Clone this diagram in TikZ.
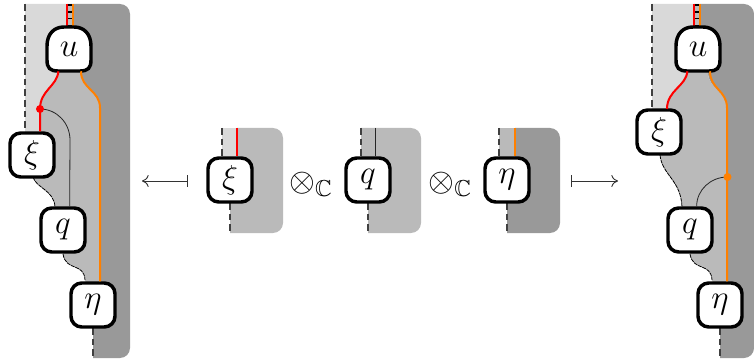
\documentclass[tikz,border=0pt]{standalone}
\usepackage{amssymb,amsmath}
\usepackage{xcolor}
\usetikzlibrary{arrows.meta}
\definecolor{lightreg}{HTML}{D9D9D9}
\definecolor{midreg}{HTML}{BABABA}
\definecolor{darkreg}{HTML}{999999}
\definecolor{orangewire}{HTML}{FF8000}
\tikzset{
  morph/.style={draw=black,line width=2.6pt,fill=white,rounded corners=8pt,minimum size=33pt,inner sep=0pt,font=\Huge},
  domelabel/.style={minimum size=33pt,inner sep=0pt,font=\Huge},
  redwire/.style={red,line width=1.5pt},
  orangeline/.style={orangewire,line width=1.5pt},
  thinwire/.style={black!85,line width=0.6pt},
  stripes/.style={black,line width=2.4pt,dash pattern=on 1.2pt off 4pt},
  edge/.style={black!75,line width=0.9pt,dash pattern=on 5pt off 3pt},
  wave/.style={black,line width=0.6pt,dash pattern=on 3pt off 0.6pt},
  mapsarrow/.style={line width=0.7pt,black!80},
  tensor/.style={font=\Huge,inner sep=0pt},
}
% morphism with a domed top, drawn at a point
\newcommand{\domebox}[1]{
  \filldraw[shift={#1},line width=2.6pt,fill=white] (-22,11) -- (-22,-3)
    .. controls (-22,-15) and (-15,-22) .. (-5,-22) -- (5,-22)
    .. controls (15,-22) and (22,-15) .. (22,-3) -- (22,11)
    .. controls (22,19) and (19,22) .. (11,22) -- (-11,22)
    .. controls (-19,22) and (-22,19) .. (-22,11) -- cycle;
}
\begin{document}
\begin{tikzpicture}[x=0.75pt,y=-0.75pt]
    \useasboundingbox (0,0) rectangle (754,360);

    % left diagram: regions
    \fill[darkreg] (73,4) -- (120,4) arc[start angle=90,end angle=0,x radius=10,y radius=-10] -- (130,348) arc[start angle=0,end angle=-90,x radius=10,y radius=-10] -- (93,358) -- (93,305) -- (100,283) -- (100,107) .. controls (100,90) and (81,90) .. (81,72) -- (73,27) -- cycle;
    \fill[lightreg] (25,4) -- (67,4) -- (67,27) -- (58,72) .. controls (57,88) and (40,90) .. (40,109) -- (40,132) -- (25,132) -- cycle;
    \fill[midreg] (67,4) -- (73,4) -- (73,27) -- (81,72) .. controls (81,90) and (100,90) .. (100,107) -- (100,283) -- (93,305) -- (85,280) .. controls (84,262) and (66,272) .. (63,254) -- (55,207) .. controls (54,190) and (36,188) .. (33,177) -- (40,132) -- (40,109) .. controls (40,90) and (57,88) .. (58,72) -- (67,27) -- cycle;

    % left diagram: boxes
    \coordinate (ulc) at (69,49);
    \coordinate (dotl) at (40,109);
    \draw[edge] (25,4) -- (25,132);
    \draw[wave] (33,177) .. controls (36,188) and (54,190) .. (55,207);
    \draw[wave] (63,254) .. controls (66,272) and (84,262) .. (85,280);
    \draw[edge] (93,328) -- (93,358);
    \draw[redwire] (67,4) -- (67,27);
    \draw[orangeline] (73,4) -- (73,27);
    \draw[stripes] (70,4) -- (70,27);
    \node[morph] (xil) at (32,155) {$\xi$};
    \node[morph] (ql) at (63,230) {$q$};
    \node[morph] (etal) at (93,305) {$\eta$};
    \domebox{(ulc)}
    \node[domelabel] (ul) at (ulc) {$u$};
    \draw[redwire] ([xshift=-8pt]ul.south) .. controls +(-1,15) and (40,90) .. (dotl) -- (xil.north -| dotl);
    \draw[orangeline] ([xshift=9pt]ul.south) .. controls +(0,18) and (100,90) .. (100,108) -- (etal.north -| 100,0);
    \draw[thinwire] (dotl) to[out=0,in=90] (70,140) -- ([xshift=5pt]ql.north);
    \fill[red] (dotl) circle (3pt);

    % middle diagrams
    \fill[lightreg] (222,128) rectangle (237,180);
    \fill[midreg] (237,128) -- (273,128) arc[start angle=90,end angle=0,x radius=10,y radius=-10] -- (283,223) arc[start angle=0,end angle=-90,x radius=10,y radius=-10] -- (230,233) -- (230,180) -- (237,180) -- cycle;
    \draw[edge] (222,128) -- (222,160);
    \draw[edge] (230,203) -- (230,233);
    \node[morph] (xim) at (230,180) {$\xi$};
    \draw[redwire] (237,128) -- (xim.north -| 237,0);

    \fill[midreg] (361,128) -- (411,128) arc[start angle=90,end angle=0,x radius=10,y radius=-10] -- (421,223) arc[start angle=0,end angle=-90,x radius=10,y radius=-10] -- (368,233) -- (368,180) -- (361,160) -- cycle;
    \draw[edge] (361,128) -- (361,160);
    \draw[edge] (368,203) -- (368,233);
    \node[morph] (qm) at (368,180) {$q$};
    \draw[thinwire] (375,128) -- (qm.north -| 375,0);

    \fill[midreg] (499,128) rectangle (515,180);
    \fill[darkreg] (515,128) -- (550,128) arc[start angle=90,end angle=0,x radius=10,y radius=-10] -- (560,223) arc[start angle=0,end angle=-90,x radius=10,y radius=-10] -- (507,233) -- (507,180) -- (515,180) -- cycle;
    \draw[edge] (499,128) -- (499,160);
    \draw[edge] (507,203) -- (507,233);
    \node[morph] (etam) at (507,180) {$\eta$};
    \draw[orangeline] (515,128) -- (etam.north -| 515,0);

    \node[tensor] (tensa) at (311,184) {$\otimes_{\scriptscriptstyle\mathbb{C}}$};
    \node[tensor] (tensb) at (450,184) {$\otimes_{\scriptscriptstyle\mathbb{C}}$};

    \coordinate (arrl) at (142,181);
    \coordinate (arrr) at (618,181);
    \draw[mapsarrow,{Computer Modern Rightarrow[length=5pt,width=9pt]}-{Bar[width=9pt]}] (arrl) -- (188,181);
    \draw[mapsarrow,{Bar[width=9pt]}-{Computer Modern Rightarrow[length=5pt,width=9pt]}] (571,181) -- (arrr);

    % right diagram: regions
    \fill[darkreg] (700,4) -- (744,4) arc[start angle=90,end angle=0,x radius=10,y radius=-10] -- (754,348) arc[start angle=0,end angle=-90,x radius=10,y radius=-10] -- (720,358) -- (720,305) -- (727,283) -- (727,107) .. controls (727,90) and (708,90) .. (708,72) -- (700,27) -- cycle;
    \fill[lightreg] (652,4) -- (694,4) -- (694,27) -- (686,72) .. controls (684,88) and (667,90) .. (667,109) -- (652,109) -- cycle;
    \fill[midreg] (694,4) -- (700,4) -- (700,27) -- (708,72) .. controls (708,90) and (727,90) .. (727,107) -- (727,283) -- (720,305) -- (712,280) .. controls (711,262) and (693,272) .. (690,254) -- (682,207) .. controls (681,180) and (662,175) .. (660,155) -- (667,109) .. controls (667,90) and (684,88) .. (686,72) -- (694,27) -- cycle;

    % right diagram: boxes
    \coordinate (urc) at (698,49);
    \coordinate (dotr) at (727.5,177);
    \draw[edge] (652,4) -- (652,109);
    \draw[wave] (660,155) .. controls (662,175) and (681,180) .. (682,207);
    \draw[wave] (690,254) .. controls (693,272) and (711,262) .. (712,280);
    \draw[edge] (720,328) -- (720,358);
    \draw[redwire] (694,4) -- (694,27);
    \draw[orangeline] (700,4) -- (700,27);
    \draw[stripes] (697,4) -- (697,27);
    \node[morph] (xir) at (659,132) {$\xi$};
    \node[morph] (qr) at (690,230) {$q$};
    \node[morph] (etar) at (720,305) {$\eta$};
    \domebox{(urc)}
    \node[domelabel] (ur) at (urc) {$u$};
    \draw[redwire] ([xshift=-8pt]ur.south) .. controls +(-1,15) and (667,90) .. (667,109);
    \draw[orangeline] ([xshift=9pt]ur.south) .. controls +(0,18) and (727,90) .. (727,108) -- (etar.north -| 727,0);
    \draw[thinwire] (dotr) to[out=180,in=90] ([xshift=5pt]qr.north);
    \fill[orangewire] (dotr) circle (3pt);
\end{tikzpicture}
\end{document}
